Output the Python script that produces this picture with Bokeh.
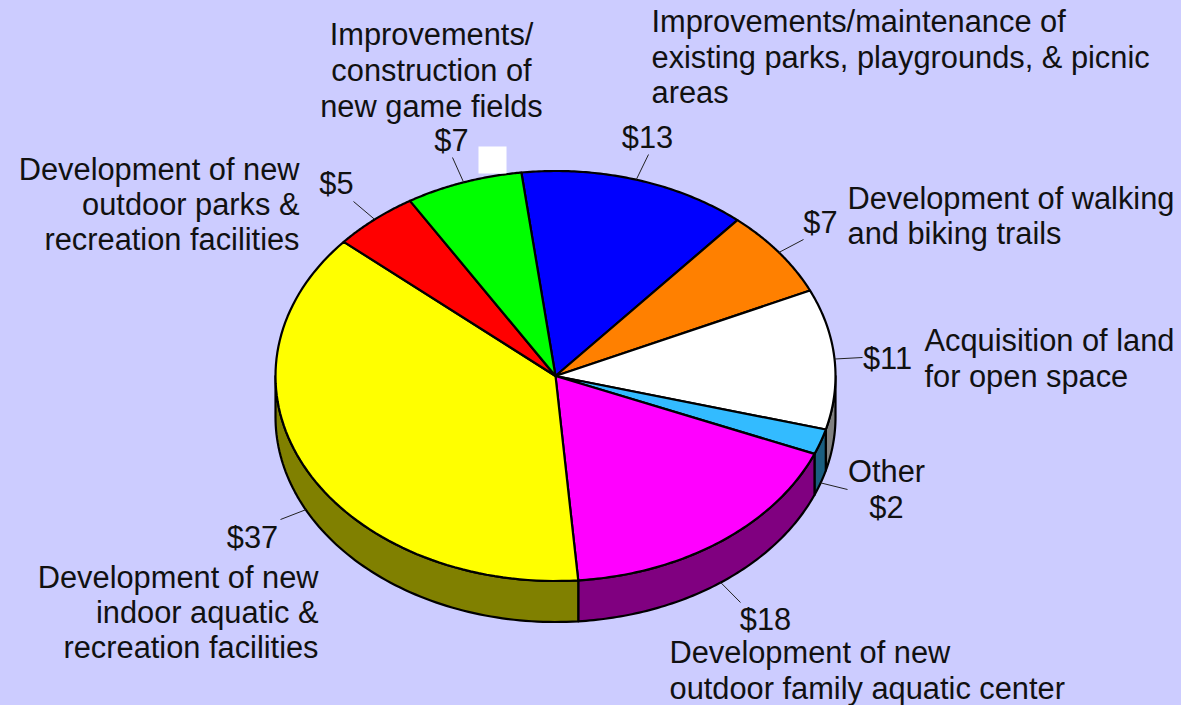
import numpy as np
from bokeh.plotting import figure
from bokeh.models import Range1d
from bokeh.core.properties import value
from bokeh.embed import file_html
from bokeh.resources import INLINE

# Data, clockwise from the start angle (slice sizes as measured in the picture)
categories = ["Improvements/maintenance of existing parks, playgrounds, & picnic areas",
              "Development of walking and biking trails",
              "Acquisition of land for open space",
              "Other",
              "Development of new outdoor family aquatic center",
              "Development of new indoor aquatic & recreation facilities",
              "Development of new outdoor parks & recreation facilities",
              "Improvements/construction of new game fields"]
amounts = [13.2, 6.9, 11.05, 2.0, 17.5, 37.65, 4.95, 6.75]
amount_labels = ["$13", "$7", "$11", "$2", "$18", "$37", "$5", "$7"]
top_colors = ["#0000FF", "#FF8000", "#FFFFFF", "#33BBFF", "#FF00FF", "#FFFF00", "#FF0000", "#00FF00"]
side_colors = ["#000080", "#804000", "#808080", "#1A5E80", "#800080", "#808000", "#800000", "#008000"]

# Pie geometry in page pixels
CX, CY, RX, RY, DEPTH = 555.0, 375.5, 280.0, 205.0, 41.0
START = -7.0
BG = "#CCCCFF"
FONT = value("Liberation Sans")
FS = "30.8px"
TEXT_DY = 0.5

# Amount label position and its leader's outer end
value_pos = [(647, 136), (820, 221), (887, 357), (886, 506), (765, 618), (252, 536), (336, 182), (451, 139)]
leader_out = [(648, 154), (803, 239), (862, 357), (847, 489), (740, 602), (280, 519), (353, 201), (452, 157)]

# Description lines: text, x, y, align
desc = [
    ("Improvements/maintenance of", 651, 20, "left"),
    ("existing parks, playgrounds, & picnic", 651, 56, "left"),
    ("areas", 651, 91, "left"),
    ("Development of walking", 847, 197, "left"),
    ("and biking trails", 847, 232, "left"),
    ("Acquisition of land", 924, 339, "left"),
    ("for open space", 924, 375, "left"),
    ("Other", 886, 470, "center"),
    ("Development of new", 669, 651, "left"),
    ("outdoor family aquatic center", 669, 687, "left"),
    ("Development of new", 318, 576, "right"),
    ("indoor aquatic &", 318, 611, "right"),
    ("recreation facilities", 318, 646, "right"),
    ("Development of new", 299, 168, "right"),
    ("outdoor parks &", 299, 203, "right"),
    ("recreation facilities", 299, 238, "right"),
    ("Improvements/", 431, 33, "center"),
    ("construction of", 431, 69, "center"),
    ("new game fields", 431, 105, "center"),
]

def pt(deg, dy=0.0):
    a = np.radians(deg)
    return CX + RX * np.sin(a), CY - RY * np.cos(a) + dy

p = figure(width=1181, height=705, x_range=Range1d(0, 1181), y_range=Range1d(705, 0),
           toolbar_location=None, output_backend="svg", background_fill_color=BG,
           border_fill_color=BG, outline_line_color=None, min_border=0)
p.axis.visible = False
p.grid.visible = False

edges = START + np.cumsum([0] + amounts) * 360.0 / sum(amounts)

# Side wall: only the front half of the rim is visible
sx, sy, sc = [], [], []
for a0, a1, c in zip(edges[:-1], edges[1:], side_colors):
    lo, hi = max(a0, 90.0), min(a1, 270.0)
    if hi <= lo:
        continue
    t = np.linspace(lo, hi, 80)
    xt, yt = pt(t)
    xb, yb = pt(t[::-1], DEPTH)
    sx.append(np.r_[xt, xb])
    sy.append(np.r_[yt, yb])
    sc.append(c)
p.patches(sx, sy, fill_color=sc, line_color="black", line_width=2.2, line_join="round")

# Top face
tx, ty = [], []
for a0, a1 in zip(edges[:-1], edges[1:]):
    t = np.linspace(a0, a1, 80)
    x, y = pt(t)
    tx.append(np.r_[CX, x])
    ty.append(np.r_[CY, y])
p.patches(tx, ty, fill_color=top_colors, line_color="black", line_width=2.2, line_join="round")

# Leaders start at the middle of each slice's arc
mids = (edges[:-1] + edges[1:]) / 2
lx, ly = [], []
for m, (ox, oy) in zip(mids, leader_out):
    x, y = pt(m, DEPTH if 95 < m < 265 else 0.0)
    lx.append([x, ox])
    ly.append([y, oy])
p.multi_line(lx, ly, line_color="#222222", line_width=1)

# White square above the pie
p.quad(left=[478], right=[506], top=[146], bottom=[173], fill_color="white", line_color=None)

p.text([v[0] for v in value_pos], [v[1] + TEXT_DY for v in value_pos], text=amount_labels,
       text_font=FONT, text_font_size=FS, text_color="#111111",
       text_align="center", text_baseline="middle")
p.text([d[1] for d in desc], [d[2] + TEXT_DY for d in desc], text=[d[0] for d in desc],
       text_align=[d[3] for d in desc], text_font=FONT, text_font_size=FS,
       text_color="#111111", text_baseline="middle")

html = file_html(p, INLINE)
html = html.replace("<head>", "<head><style>html,body{margin:0;padding:0;background:%s;overflow:hidden}</style>" % BG, 1)
open("out.html", "w").write(html)
